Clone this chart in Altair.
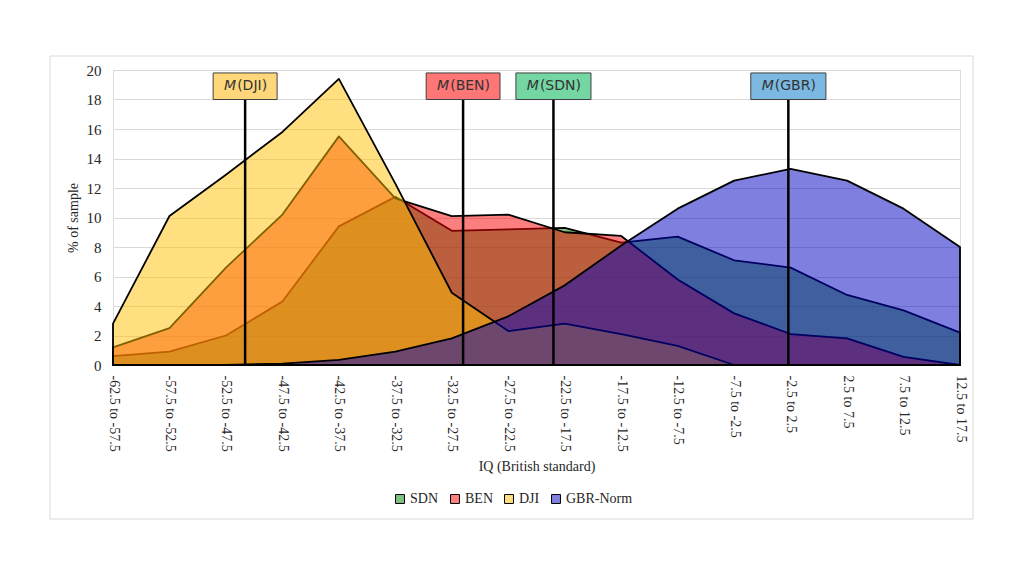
import altair as alt
import pandas as pd

categories = ["-62.5 to -57.5", "-57.5 to -52.5", "-52.5 to -47.5", "-47.5 to -42.5",
              "-42.5 to -37.5", "-37.5 to -32.5", "-32.5 to -27.5", "-27.5 to -22.5",
              "-22.5 to -17.5", "-17.5 to -12.5", "-12.5 to -7.5", "-7.5 to -2.5",
              "-2.5 to 2.5", "2.5 to 7.5", "7.5 to 12.5", "12.5 to 17.5"]

sdn = [0.6, 0.9, 2.0, 4.3, 9.4, 11.4, 9.1, 9.2, 9.3, 8.3, 8.7, 7.1, 6.6, 4.75, 3.7, 2.2]
ben = [1.2, 2.5, 6.6, 10.2, 15.5, 11.3, 10.1, 10.2, 9.0, 8.75, 5.8, 3.5, 2.1, 1.8, 0.55, 0.0]
dji = [2.8, 10.1, 12.9, 15.8, 19.4, 12.3, 4.9, 2.3, 2.8, 2.1, 1.3, 0.0, 0.0, 0.0, 0.0, 0.0]
gbr = [None, None, 0.0, 0.1, 0.35, 0.9, 1.8, 3.3, 5.4, 8.1, 10.6, 12.5, 13.3, 12.5, 10.6, 8.0]

series_names = ["SDN", "BEN", "DJI", "GBR-Norm"]
series_values = [sdn, ben, dji, gbr]
area_colors = ["#008000", "#f80000", "#ffc000", "#0000c0"]
legend_colors = ["#80c080", "#ff8080", "#ffe080", "#8080e0"]

mean_labels = ["(DJI)", "(BEN)", "(SDN)", "(GBR)"]
mean_values = [-48.3, -29.0, -21.0, -0.2]
box_colors = ["#fdd77a", "#ff7676", "#74d6a3", "#7bb9e3"]

# bin midpoints derived from the category labels
mids = []
for c in categories:
    a, b = c.split(" to ")
    mids.append((float(a) + float(b)) / 2)

rows = []
for name, vals in zip(series_names, series_values):
    for c, m, v in zip(categories, mids, vals):
        if v is not None:
            rows.append({"series": name, "cat": c, "mid": m, "pct": v})
df = pd.DataFrame(rows)

serif = "Liberation Serif"
txt = "#262626"

label_arr = "[" + ",".join("'" + c + "'" for c in categories) + "]"
x_axis = alt.Axis(values=mids, labelExpr=label_arr + "[round((datum.value + 60) / 5)]",
                  labelAngle=90, labelFont=serif, labelFontSize=14, labelColor=txt,
                  labelPadding=10, labelFlush=False, labelOverlap=False, labelBound=False,
                  ticks=False, grid=False, domainColor="#d9d9d9",
                  title="IQ (British standard)", titleFont=serif, titleFontSize=14,
                  titleFontWeight="normal", titleColor=txt, titlePadding=8)
y_axis = alt.Axis(values=list(range(0, 21, 2)), labelFont=serif, labelFontSize=15,
                  labelColor=txt, labelPadding=12, labelOverlap=False, ticks=False,
                  domain=False, gridColor="#d9d9d9", gridWidth=1,
                  title="% of sample", titleFont=serif, titleFontSize=14,
                  titleFontWeight="normal", titleColor=txt, titlePadding=6)
x_scale = alt.Scale(domain=[-60, 15], nice=False, zero=False, padding=0)
y_scale = alt.Scale(domain=[0, 20], nice=False)

layers = []

# outer chart border
border = alt.Chart(pd.DataFrame({"k": [0]})).mark_rect(
    fill=None, stroke="#d9d9d9", strokeWidth=1
).encode(x=alt.value(-63), x2=alt.value(860), y=alt.value(-14), y2=alt.value(449))
layers.append(border)

for name, col in zip(series_names, area_colors):
    layer = alt.Chart(df).transform_filter(alt.datum.series == name).mark_area(
        fill=col, fillOpacity=0.5, stroke="black", strokeWidth=1.8, strokeJoin="round"
    ).encode(
        x=alt.X("mid:Q", scale=x_scale, axis=x_axis),
        y=alt.Y("pct:Q", scale=y_scale, axis=y_axis),
    )
    layers.append(layer)

# legend (built from a dedicated fill scale)
leg_df = pd.DataFrame({"series": series_names})
legend_layer = alt.Chart(leg_df).mark_square(opacity=0).encode(
    x=alt.value(0), y=alt.value(0),
    fill=alt.Fill("series:N", scale=alt.Scale(domain=series_names, range=legend_colors),
                  legend=alt.Legend(orient="none", legendX=280, legendY=422,
                                    direction="horizontal", title=None,
                                    symbolType="square", symbolSize=80,
                                    symbolStrokeColor="black", symbolStrokeWidth=1,
                                    symbolOpacity=1, labelFont=serif, labelFontSize=14,
                                    labelColor=txt, labelOffset=3, columnPadding=9,
                                    padding=0)),
)
layers.append(legend_layer)

mean_df = pd.DataFrame({"label": mean_labels, "mean": mean_values, "box": box_colors})

rules = alt.Chart(mean_df).mark_rule(color="black", strokeWidth=2.5).encode(
    x=alt.X("mean:Q", scale=x_scale, axis=x_axis),
    y=alt.YDatum(18.0, scale=y_scale, axis=y_axis),
    y2=alt.datum(0),
)
layers.append(rules)


def text_width(s, size=14):
    w = {"(": 0.39, ")": 0.39, "D": 0.77, "J": 0.295, "I": 0.295, "B": 0.686,
         "E": 0.632, "N": 0.748, "S": 0.635, "G": 0.775, "R": 0.695}
    return sum(w.get(ch, 0.6) for ch in s) * size


for lab, m, col in zip(mean_labels, mean_values, box_colors):
    one = mean_df[mean_df["label"] == lab]
    w_rest = text_width(lab)
    w_m = 12
    total = w_m + w_rest
    box_w = total + 22
    split = -total / 2 + w_m
    box = alt.Chart(one).mark_bar(size=box_w, fill=col, stroke="#404040", strokeWidth=1).encode(
        x=alt.X("mean:Q", scale=x_scale, axis=x_axis),
        y=alt.YDatum(19.8, scale=y_scale, axis=y_axis),
        y2=alt.datum(18.0),
    )
    m_txt = alt.Chart(one).mark_text(text="M", font="DejaVu Sans", fontStyle="italic",
                                     fontSize=14, align="right", baseline="middle",
                                     dx=split, color="#333333").encode(
        x=alt.X("mean:Q", scale=x_scale, axis=x_axis),
        y=alt.YDatum(18.9, scale=y_scale, axis=y_axis),
    )
    r_txt = alt.Chart(one).mark_text(font="DejaVu Sans", fontSize=14, align="left",
                                     baseline="middle", dx=split + 1,
                                     color="#333333").encode(
        x=alt.X("mean:Q", scale=x_scale, axis=x_axis),
        y=alt.YDatum(18.9, scale=y_scale, axis=y_axis),
        text="label:N",
    )
    layers += [box, m_txt, r_txt]

chart = alt.layer(*layers).properties(
    width=847, height=295,
    autosize=alt.AutoSizeParams(type="none"),
    padding={"left": 105, "top": 62, "right": 56, "bottom": 203},
).configure_view(stroke=None).configure(background="white")

chart.save("out.html", embed_options={"renderer": "svg", "actions": False})
